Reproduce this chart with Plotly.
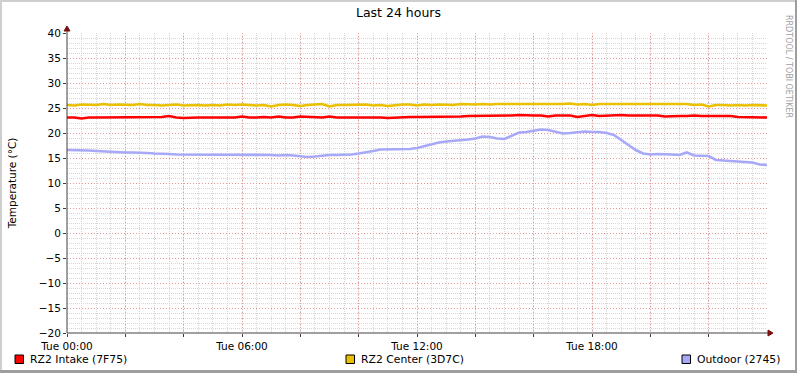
import plotly.graph_objects as go

# ---- data (15-minute samples, hours since Tue 00:00) ----
intake = [23.1, 23.1, 22.9, 23.1, 23.1, 23.1, 23.1, 23.2, 23.1, 23.1, 23.1, 23.1,
          23.1, 23.2, 23.4, 23.1, 23.0, 23.1, 23.1, 23.1, 23.1, 23.0, 23.1, 23.1,
          23.3, 23.1, 23.1, 23.2, 23.1, 23.3, 23.1, 23.1, 23.3, 23.2, 23.1, 23.1,
          23.3, 23.1, 23.1, 23.1, 23.1, 23.2, 23.1, 23.1, 23.0, 23.1, 23.2, 23.2,
          23.2, 23.2, 23.3, 23.2, 23.3, 23.3, 23.3, 23.4, 23.4, 23.5, 23.5, 23.5,
          23.5, 23.5, 23.6, 23.5, 23.5, 23.5, 23.3, 23.5, 23.5, 23.5, 23.2, 23.4,
          23.6, 23.4, 23.5, 23.5, 23.6, 23.5, 23.5, 23.5, 23.5, 23.5, 23.3, 23.4,
          23.4, 23.4, 23.5, 23.4, 23.4, 23.4, 23.3, 23.4, 23.2, 23.2, 23.1, 23.1, 23.1]
center = [25.6, 25.5, 25.7, 25.6, 25.6, 25.8, 25.6, 25.7, 25.7, 25.6, 25.8, 25.6,
          25.6, 25.5, 25.6, 25.7, 25.5, 25.6, 25.6, 25.5, 25.6, 25.5, 25.7, 25.6,
          25.7, 25.6, 25.5, 25.6, 25.3, 25.6, 25.7, 25.6, 25.4, 25.6, 25.7, 25.8,
          25.3, 25.6, 25.6, 25.6, 25.6, 25.7, 25.5, 25.6, 25.4, 25.6, 25.7, 25.7,
          25.5, 25.7, 25.6, 25.7, 25.7, 25.6, 25.8, 25.7, 25.7, 25.8, 25.7, 25.8,
          25.8, 25.7, 25.8, 25.8, 25.7, 25.8, 25.8, 25.7, 25.8, 25.9, 25.7, 25.8,
          25.6, 25.8, 25.8, 25.7, 25.8, 25.8, 25.7, 25.8, 25.7, 25.8, 25.7, 25.8,
          25.7, 25.8, 25.6, 25.7, 25.3, 25.6, 25.6, 25.5, 25.6, 25.5, 25.6, 25.5, 25.5]
outdoor = [16.6, 16.6, 16.5, 16.5, 16.4, 16.3, 16.2, 16.2, 16.1, 16.1, 16.1, 16.0,
           15.9, 15.9, 15.8, 15.7, 15.7, 15.7, 15.7, 15.6, 15.6, 15.6, 15.7, 15.6,
           15.6, 15.6, 15.6, 15.6, 15.6, 15.5, 15.6, 15.5, 15.3, 15.2, 15.3, 15.5,
           15.6, 15.6, 15.6, 15.7, 15.9, 16.1, 16.4, 16.7, 16.7, 16.7, 16.7, 16.8,
           17.0, 17.4, 17.8, 18.1, 18.3, 18.4, 18.6, 18.7, 18.9, 19.3, 19.2, 18.9,
           18.8, 19.5, 20.1, 20.2, 20.4, 20.7, 20.6, 20.3, 19.9, 20.0, 20.2, 20.3,
           20.2, 20.2, 20.0, 19.6, 18.6, 17.6, 16.6, 15.9, 15.7, 15.8, 15.8, 15.7,
           15.6, 16.1, 15.5, 15.4, 15.4, 14.6, 14.5, 14.3, 14.3, 14.2, 14.1, 13.7, 13.6]
hours = [i * 0.25 for i in range(len(outdoor))]

series_names = ["RZ2 Intake (7F75)", "RZ2 Center (3D7C)", "Outdoor (2745)"]
series_colors = ["#FF0000", "#EAC000", "#A8A8F8"]

x_tickvals = list(range(0, 24, 2))
x_ticktext = ["Tue 00:00", "", "", "Tue 06:00", "", "", "Tue 12:00", "", "", "Tue 18:00", "", ""]

W, H = 797, 373
L, R, T, B = 67, 30, 33, 40
PW, PH = W - L - R, H - T - B


def px(xp):
    return (xp - L) / PW


def py(yp):
    return (H - B - yp) / PH


fig = go.Figure()
for name, vals, col in zip(series_names, [intake, center, outdoor], series_colors):
    fig.add_trace(go.Scatter(x=hours, y=vals, mode="lines", name=name,
                             line=dict(color=col, width=2.6, shape="linear"),
                             showlegend=False, hoverinfo="skip"))

font = "DejaVu Sans, Verdana, sans-serif"
major_grid = "#EA9898"
minor_grid = "#D6D6D6"

fig.update_layout(
    width=W, height=H,
    margin=dict(l=L, r=R, t=T, b=B, pad=0),
    paper_bgcolor="#FFFFFF", plot_bgcolor="#FFFFFF",
    font=dict(family=font, size=10.5, color="#000000"),
    title=dict(text="Last 24 hours", x=0.5, xanchor="center", y=1 - 13 / H, yanchor="middle",
               font=dict(family=font, size=12.5, color="#000000")),
    xaxis=dict(range=[0, 24], tickvals=x_tickvals, ticktext=x_ticktext, automargin=False,
               showgrid=True, gridcolor=major_grid, griddash="1px,2px", gridwidth=1,
               minor=dict(dtick=0.5, tick0=0, showgrid=True, gridcolor=minor_grid,
                          griddash="1px,1px", gridwidth=1),
               ticks="outside", ticklen=3, tickcolor="#404040",
               showline=False, zeroline=False, tickfont=dict(size=10.5)),
    yaxis=dict(range=[-20, 40], dtick=5, tick0=0, automargin=False,
               showgrid=True, gridcolor=major_grid, griddash="1px,2px", gridwidth=1,
               minor=dict(dtick=1, tick0=0, showgrid=True, gridcolor=minor_grid,
                          griddash="1px,1px", gridwidth=1),
               ticks="outside", ticklen=3, tickcolor="#404040",
               showline=False, zeroline=False, tickfont=dict(size=10.5),
               title=dict(text="Temperature (°C)", standoff=20, font=dict(size=10.5))),
)

shapes = []
# image border shading
shapes.append(dict(type="line", xref="paper", yref="paper", x0=px(0), x1=px(W), y0=py(1), y1=py(1),
                   line=dict(color="#CFCFCF", width=2)))
shapes.append(dict(type="line", xref="paper", yref="paper", x0=px(1), x1=px(1), y0=py(0), y1=py(H),
                   line=dict(color="#CFCFCF", width=2)))
shapes.append(dict(type="line", xref="paper", yref="paper", x0=px(0), x1=px(W), y0=py(H - 1.5), y1=py(H - 1.5),
                   line=dict(color="#9E9E9E", width=3)))
shapes.append(dict(type="line", xref="paper", yref="paper", x0=px(W - 1), x1=px(W - 1), y0=py(0), y1=py(H),
                   line=dict(color="#9E9E9E", width=2)))
# axes
shapes.append(dict(type="line", xref="paper", yref="paper", x0=0, x1=px(769), y0=0, y1=0,
                   line=dict(color="#404040", width=1), layer="above"))
shapes.append(dict(type="line", xref="paper", yref="paper", x0=0, x1=0, y0=0, y1=py(29),
                   line=dict(color="#404040", width=1), layer="above"))
# arrows
shapes.append(dict(type="path", xref="paper", yref="paper",
                   path=f"M {px(64)} {py(31)} L {px(70)} {py(31)} L {px(67)} {py(26)} Z",
                   fillcolor="#7A1010", line=dict(color="#7A1010", width=1), layer="above"))
shapes.append(dict(type="path", xref="paper", yref="paper",
                   path=f"M {px(768)} {py(330)} L {px(768)} {py(336)} L {px(773)} {py(333)} Z",
                   fillcolor="#7A1010", line=dict(color="#7A1010", width=1), layer="above"))
# legend swatches
legend_x = [15, 346, 682]
for lx, col in zip(legend_x, series_colors):
    shapes.append(dict(type="rect", xref="paper", yref="paper",
                       x0=px(lx), x1=px(lx + 8.5), y0=py(363.5), y1=py(355),
                       fillcolor=col, line=dict(color="#000000", width=1)))
fig.update_layout(shapes=shapes)

annotations = []
for lx, name in zip(legend_x, series_names):
    annotations.append(dict(text=name, xref="paper", yref="paper", x=px(lx + 12.5), y=py(359.5),
                            xanchor="left", yanchor="middle", showarrow=False,
                            font=dict(family=font, size=10.8, color="#000000")))
annotations.append(dict(text="RRDTOOL / TOBI OETIKER", xref="paper", yref="paper",
                        x=px(789), y=py(66), xanchor="center", yanchor="middle", textangle=90,
                        showarrow=False, font=dict(family=font, size=8, color="#A0A0A0")))
fig.update_layout(annotations=annotations)

fig.write_html("out.html", config={"displayModeBar": False},
               post_script="document.body.style.margin='0';document.body.style.overflow='hidden';")
